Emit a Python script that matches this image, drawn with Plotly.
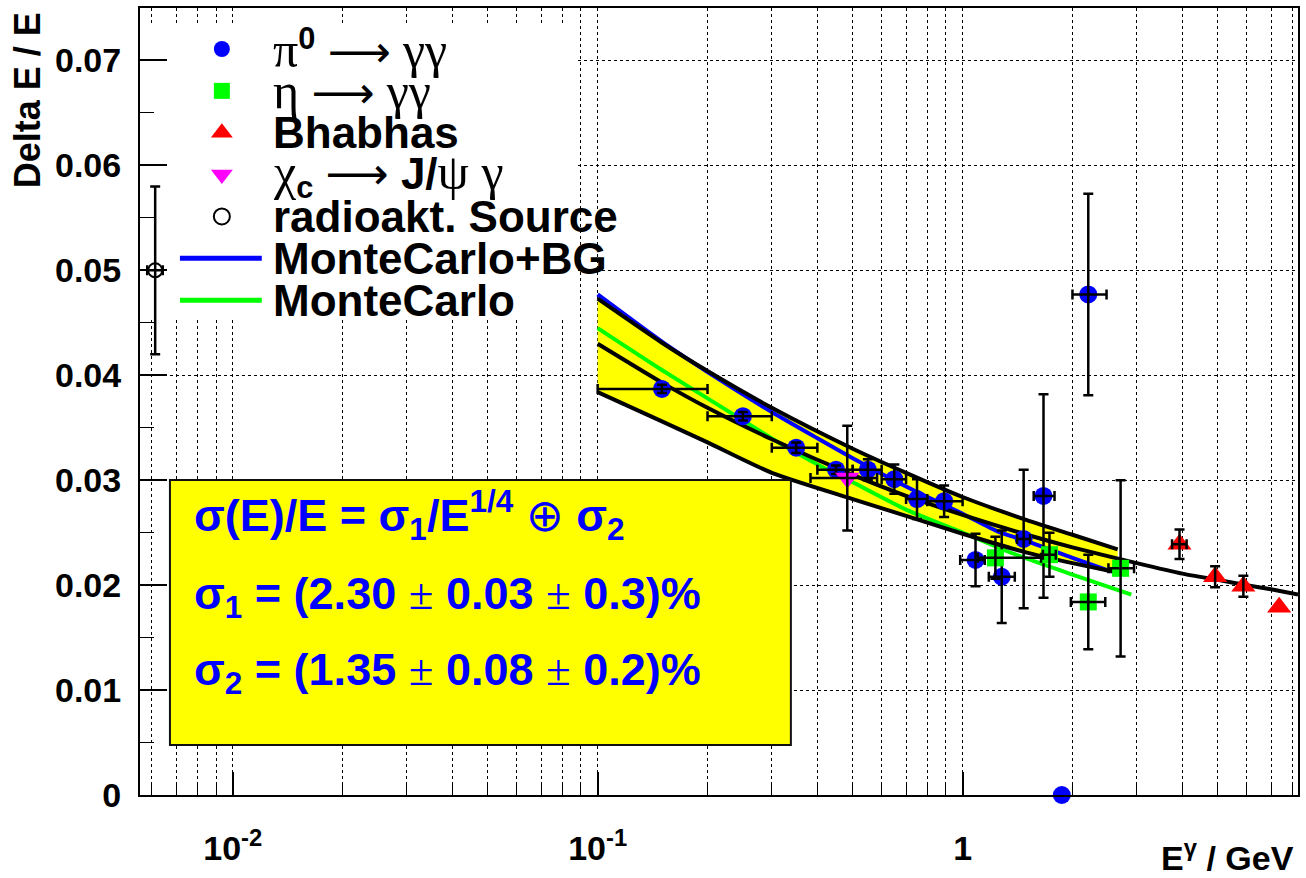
import math
import plotly.graph_objects as go

# ---------------- data ----------------
# pi0 -> gamma gamma
pi0_E      = [0.15, 0.25, 0.35, 0.45, 0.55, 0.65, 0.75, 0.89, 1.085, 1.28, 1.47, 1.666, 2.21, 1.87]
pi0_res    = [0.0387, 0.0361, 0.0331, 0.0310, 0.0310, 0.0301, 0.0282, 0.0280, 0.0224, 0.0208, 0.0244, 0.0285, 0.0477, 0.0]
pi0_dE_lo  = [0.05, 0.05, 0.05, 0.05, 0.05, 0.05, 0.05, 0.09, 0.10, 0.10, 0.06, 0.10, 0.21, 0.0]
pi0_dE_hi  = [0.05, 0.05, 0.05, 0.05, 0.05, 0.05, 0.05, 0.11, 0.065, 0.11, 0.06, 0.12, 0.27, 0.0]
pi0_dres   = [0.0004, 0.0004, 0.0005, 0.0004, 0.0010, 0.0014, 0.0019, 0.0015, 0.0025, 0.0044, 0.0066, 0.0097, 0.0096, 0.0]

# eta -> gamma gamma
eta_E      = [1.23, 1.73, 2.21, 2.71]
eta_res    = [0.0226, 0.0229, 0.0184, 0.0216]
eta_dE_lo  = [0.13, 0.07, 0.23, 0.20]
eta_dE_hi  = [0.41, 0.07, 0.25, 0.24]
eta_dres   = [0.0020, 0.0021, 0.0045, 0.0084]

# Bhabhas
bha_E      = [3.93, 4.92, 5.88, 7.37]
bha_res    = [0.0239, 0.0208, 0.0199, 0.0179]
bha_dE     = [0.18, 0.0, 0.0, 0.0]
bha_dres   = [0.0014, 0.0010, 0.0010, 0.0]

# chi_c -> J/psi gamma
chi_E      = [0.483]
chi_res    = [0.0302]
chi_dE     = [0.10]
chi_dres   = [0.0050]

# radioactive source
src_E      = [0.00613]
src_res    = [0.050]
src_dE     = [0.0003]
src_dres   = [0.0080]

# systematic band of the fit
band_E     = [0.1, 0.15, 0.2, 0.3, 0.5, 0.7, 1.0, 1.5, 2.0, 2.66]
band_hi    = [0.0473, 0.0431, 0.0404, 0.0369, 0.0330, 0.0307, 0.0284, 0.0262, 0.0248, 0.0234]
band_lo    = [0.0384, 0.0356, 0.0336, 0.0307, 0.0282, 0.0266, 0.0249, 0.0231, 0.0221, 0.0212]

# MonteCarlo + background
mcbg_E     = [0.1, 0.15, 0.2, 0.3, 0.4, 0.5, 0.7, 1.0, 1.25, 1.5, 2.0, 2.55]
mcbg_res   = [0.0477, 0.0432, 0.0403, 0.0365, 0.0340, 0.0321, 0.0294, 0.0268, 0.0251, 0.0242, 0.0226, 0.0213]

# MonteCarlo
mc_E       = [0.1, 0.15, 0.2, 0.327, 0.41, 0.5, 0.7, 1.0, 1.4, 2.0, 2.9]
mc_res     = [0.0445, 0.0405, 0.0378, 0.0332, 0.0313, 0.0298, 0.0272, 0.0250, 0.0229, 0.0210, 0.0191]

# fit curve
fit_E      = [0.1, 0.15, 0.2, 0.3, 0.5, 0.7, 1.0, 1.5, 2.0, 3.0, 4.0, 5.0, 6.0, 7.0, 8.3]
fit_res    = [0.0430, 0.0393, 0.0369, 0.0339, 0.0305, 0.0285, 0.0267, 0.0248, 0.0236, 0.0221, 0.0211, 0.0205, 0.0200, 0.0196, 0.0191]

# fit parameters (text)
sigma1_txt = ["2.30", "0.03", "0.3"]
sigma2_txt = ["1.35", "0.08", "0.2"]

# axis ticks
x_major_vals   = [0.01, 0.1, 1.0]
x_major_labels = ["10<sup>-2</sup>", "10<sup>-1</sup>", "1"]
x_minor_vals   = [0.006, 0.007, 0.008, 0.009,
                  0.02, 0.03, 0.04, 0.05, 0.06, 0.07, 0.08, 0.09,
                  0.2, 0.3, 0.4, 0.5, 0.6, 0.7, 0.8, 0.9,
                  2, 3, 4, 5, 6, 7, 8]
x_range = [0.00557, 8.3]
y_range = [0.0, 0.075]

# ---------------- style ----------------
BLUE, GREEN, RED, MAG, YEL = "#0000ff", "#00ff00", "#ff0000", "#ff00ff", "#ffff00"
SANS = "Liberation Sans"
SERIF = "Liberation Serif"


def greek(s, size=None):
    extra = ";font-size:%dpx" % size if size else ""
    return '<span style="font-family:%s;font-weight:normal%s">%s</span>' % (SERIF, extra, s)


ARROW = '<span style="font-family:DejaVu Sans;font-weight:normal">⟶</span>'
GS = 50   # size of the greek glyphs in the legend

W, H = 1306, 878
ML, MR, MT, MB = 140, 6, 8, 83
PW, PH = W - ML - MR, H - MT - MB
LX0, LX1 = math.log10(x_range[0]), math.log10(x_range[1])


def px_x(px):   # pixel column -> data x (decoration placement only)
    return 10 ** (LX0 + (px - ML) / PW * (LX1 - LX0))


def px_y(py):   # pixel row -> data y (decoration placement only)
    return y_range[0] + (H - MB - py) / PH * (y_range[1] - y_range[0])


fig = go.Figure()

# white legend background (hides grid, lies below the data)
bx0, bx1, by0, by1 = px_x(145), px_x(577), px_y(320), px_y(25)
fig.add_trace(go.Scatter(x=[bx0, bx1, bx1, bx0, bx0], y=[by0, by0, by1, by1, by0],
                         fill="toself", fillcolor="white", mode="lines",
                         line=dict(width=0, color="white"), hoverinfo="skip", showlegend=False))

# yellow band
fig.add_trace(go.Scatter(x=band_E + band_E[::-1], y=band_hi + band_lo[::-1],
                         fill="toself", fillcolor=YEL, mode="lines",
                         line=dict(width=0), hoverinfo="skip", showlegend=False))
# MC curves
fig.add_trace(go.Scatter(x=mc_E, y=mc_res, mode="lines",
                         line=dict(color=GREEN, width=4, shape="spline", smoothing=0.6),
                         showlegend=False, hoverinfo="skip"))
fig.add_trace(go.Scatter(x=mcbg_E, y=mcbg_res, mode="lines",
                         line=dict(color=BLUE, width=4, shape="spline", smoothing=0.6),
                         showlegend=False, hoverinfo="skip"))
# band edges and fit
for xs, ys in [(band_E, band_hi), (band_E, band_lo), (fit_E, fit_res)]:
    fig.add_trace(go.Scatter(x=xs, y=ys, mode="lines",
                             line=dict(color="black", width=4, shape="spline", smoothing=0.6),
                             showlegend=False, hoverinfo="skip"))

ERR = dict(color="black", thickness=2.5, width=5)


def add_points(xs, ys, symbol, color, size, xlo, xhi, ylo, yhi, line_color=None):
    fig.add_trace(go.Scatter(x=xs, y=ys, mode="markers", cliponaxis=False,
                             marker=dict(symbol=symbol, color=color, size=size,
                                         line=dict(width=2 if line_color else 0,
                                                   color=line_color or color)),
                             showlegend=False, hoverinfo="skip"))
    iy = [i for i in range(len(xs)) if ylo[i] > 0 or yhi[i] > 0]
    if iy:
        fig.add_trace(go.Scatter(x=[xs[i] for i in iy], y=[ys[i] for i in iy], mode="markers",
                                 marker=dict(size=1, opacity=0),
                                 error_y=dict(type="data", symmetric=False,
                                              array=[yhi[i] for i in iy],
                                              arrayminus=[ylo[i] for i in iy], **ERR),
                                 showlegend=False, hoverinfo="skip"))
    ix = [i for i in range(len(xs)) if xlo[i] > 0 or xhi[i] > 0]
    if ix:
        fig.add_trace(go.Scatter(x=[xs[i] for i in ix], y=[ys[i] for i in ix], mode="markers",
                                 marker=dict(size=1, opacity=0),
                                 error_x=dict(type="data", symmetric=False,
                                              array=[xhi[i] for i in ix],
                                              arrayminus=[xlo[i] for i in ix], **ERR),
                                 showlegend=False, hoverinfo="skip"))


add_points(pi0_E, pi0_res, "circle", BLUE, 18, pi0_dE_lo, pi0_dE_hi, pi0_dres, pi0_dres)
add_points(eta_E, eta_res, "square", GREEN, 17, eta_dE_lo, eta_dE_hi, eta_dres, eta_dres)
add_points(bha_E, bha_res, "triangle-up", RED, 21, bha_dE, bha_dE, bha_dres, bha_dres)
add_points(chi_E, chi_res, "triangle-down", MAG, 21, chi_dE, chi_dE, chi_dres, chi_dres)
add_points(src_E, src_res, "circle-open", "black", 14, src_dE, src_dE, src_dres, src_dres,
           line_color="black")

# ---------------- manual legend (overlay axes 0..1 over the frame) ----------------
leg_labels = [
    greek("π", GS) + "<sup>0</sup> " + ARROW + " " + greek("γγ", GS),
    greek("η", GS) + " " + ARROW + " " + greek("γγ", GS),
    "Bhabhas",
    greek("χ", GS) + "<sub>c</sub> " + ARROW + " J/" + greek("ψ γ", GS),
    "radioakt. Source",
    "MonteCarlo+BG",
    "MonteCarlo",
]
leg_symbols = ["circle", "square", "triangle-up", "triangle-down", "circle-open", None, None]
leg_colors = [BLUE, GREEN, RED, MAG, "black", BLUE, GREEN]
LEG_TOP, LEG_STEP = 0.9479, 0.0532
LEG_MX = (222 - ML) / PW
LEG_L0, LEG_L1 = (180 - ML) / PW, (262 - ML) / PW
LEG_TX = (271 - ML) / PW

for k, (lab, sym, col) in enumerate(zip(leg_labels, leg_symbols, leg_colors)):
    yk = LEG_TOP - k * LEG_STEP
    if sym is None:
        fig.add_trace(go.Scatter(x=[LEG_L0, LEG_L1], y=[yk, yk], xaxis="x2", yaxis="y2",
                                 mode="lines", line=dict(color=col, width=5),
                                 showlegend=False, hoverinfo="skip"))
    else:
        msize = 19 if sym.startswith("triangle") else 16
        fig.add_trace(go.Scatter(x=[LEG_MX], y=[yk], xaxis="x2", yaxis="y2", mode="markers",
                                 marker=dict(symbol=sym, color=col, size=msize,
                                             line=dict(width=2 if sym.endswith("open") else 0, color=col)),
                                 showlegend=False, hoverinfo="skip"))
    fig.add_annotation(x=LEG_TX, y=yk, xref="paper", yref="paper", text=lab, showarrow=False,
                       xanchor="left", yanchor="middle",
                       font=dict(family=SANS, size=44, color="black", weight="bold"))

# yellow fit box
fig.add_shape(type="rect", xref="paper", yref="paper",
              x0=(170 - ML) / PW, x1=(792 - ML) / PW,
              y0=(H - MB - 745) / PH, y1=(H - MB - 480) / PH,
              fillcolor=YEL, line=dict(color="#111111", width=2), layer="above")
pm = greek("±")
box_lines = [
    "σ(E)/E = σ<sub>1</sub>/E<sup>1/4</sup> " + greek("⊕") + " σ<sub>2</sub>",
    "σ<sub>1</sub> = (%s %s %s %s %s)%%" % (sigma1_txt[0], pm, sigma1_txt[1], pm, sigma1_txt[2]),
    "σ<sub>2</sub> = (%s %s %s %s %s)%%" % (sigma2_txt[0], pm, sigma2_txt[1], pm, sigma2_txt[2]),
]
for txt, ypx in zip(box_lines, [515, 596, 672]):
    fig.add_annotation(x=(192 - ML) / PW, y=(H - MB - ypx) / PH, xref="paper", yref="paper",
                       text=txt, showarrow=False, xanchor="left", yanchor="middle",
                       font=dict(family=SANS, size=45, color=BLUE, weight="bold"))

# axis titles
fig.add_annotation(x=(28 - ML) / PW, y=(H - MB - 10) / PH, xref="paper", yref="paper",
                   text="Delta E / E", showarrow=False, textangle=-90,
                   xanchor="center", yanchor="top",
                   font=dict(family=SANS, size=36, color="black", weight="bold"))
fig.add_annotation(x=(1298 - ML) / PW, y=(H - MB - 855) / PH, xref="paper", yref="paper",
                   text="E<sup>γ</sup> / GeV", showarrow=False,
                   xanchor="right", yanchor="middle",
                   font=dict(family=SANS, size=34, color="black", weight="bold"))

tickfont = dict(family=SANS, size=34, color="black", weight="bold")
fig.update_layout(
    width=W, height=H,
    margin=dict(l=ML, r=MR, t=MT, b=MB),
    paper_bgcolor="white", plot_bgcolor="white",
    showlegend=False,
    xaxis=dict(type="log", range=[LX0, LX1],
               tickmode="array", tickvals=x_major_vals, ticktext=x_major_labels,
               ticks="inside", ticklen=23, tickwidth=2, tickcolor="black",
               showgrid=True, gridcolor="black", gridwidth=1, griddash="dot",
               minor=dict(tickmode="array", tickvals=x_minor_vals, ticks="inside", ticklen=12,
                          tickwidth=1, tickcolor="black", showgrid=True, gridcolor="black",
                          gridwidth=1, griddash="dot"),
               showline=True, linecolor="black", linewidth=2, mirror=True,
               zeroline=False, tickfont=tickfont, ticklabelstandoff=22),
    yaxis=dict(range=y_range, dtick=0.01, tick0=0,
               ticks="inside", ticklen=27, tickwidth=2, tickcolor="black",
               showgrid=True, gridcolor="black", gridwidth=1, griddash="dot",
               minor=dict(dtick=0.005, ticks="inside", ticklen=14, tickwidth=1,
                          tickcolor="black", showgrid=False),
               showline=True, linecolor="black", linewidth=2, mirror=True,
               zeroline=False, tickfont=tickfont, ticklabelstandoff=10),
    xaxis2=dict(overlaying="x", anchor="y2", range=[0, 1], visible=False, fixedrange=True),
    yaxis2=dict(overlaying="y", anchor="x2", range=[0, 1], visible=False, fixedrange=True),
)

fig.write_html("out.html")
